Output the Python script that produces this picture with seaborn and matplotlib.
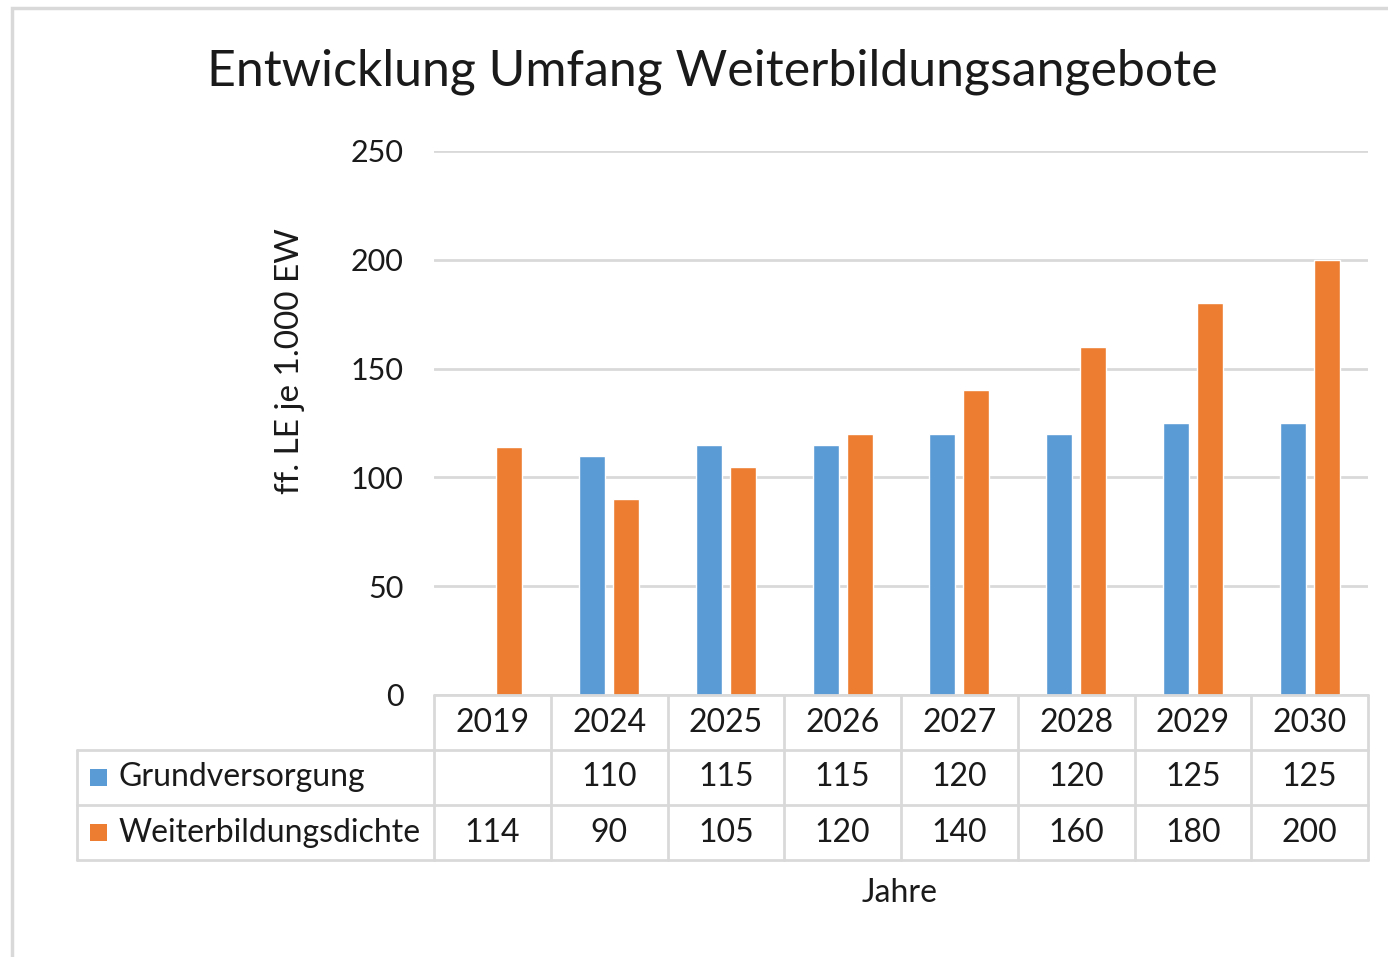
import numpy as np
import pandas as pd
import matplotlib
matplotlib.use("Agg")
import matplotlib.pyplot as plt
from matplotlib.patches import Rectangle
from matplotlib.lines import Line2D
import seaborn as sns

# ---- data ----
years = ["2019", "2024", "2025", "2026", "2027", "2028", "2029", "2030"]
grundversorgung = [np.nan, 110, 115, 115, 120, 120, 125, 125]
weiterbildungsdichte = [114, 90, 105, 120, 140, 160, 180, 200]
series_names = ["Grundversorgung", "Weiterbildungsdichte"]
y_ticks = [0, 50, 100, 150, 200, 250]
title = "Entwicklung Umfang Weiterbildungsangebote"
y_label = "ff. LE je 1.000 EW"
x_label = "Jahre"

colors = ["#5B9BD5", "#ED7D31"]
grid_c = "#D9D9D9"
text_c = "#1a1a1a"

sns.set_theme(style="white")
plt.rcParams["font.family"] = ["Lato", "DejaVu Sans"]

W, H = 1388, 957
fig = plt.figure(figsize=(W / 100, H / 100), dpi=100)

def fx(px):
    return px / W

def fy(py):
    return 1 - py / H

FS = 23

# outer chart border
fig.patches.append(Rectangle((fx(12), fy(1000)), fx(1500), fy(8) - fy(1000),
                             transform=fig.transFigure, fill=False,
                             edgecolor=grid_c, linewidth=2.5))

ax_l, ax_r, ax_t, ax_b = 434, 1368, 151, 695
ax = fig.add_axes([fx(ax_l), fy(ax_b), fx(ax_r) - fx(ax_l), fy(ax_t) - fy(ax_b)])

df = pd.DataFrame({
    "Jahr": years * 2,
    "Serie": [series_names[0]] * len(years) + [series_names[1]] * len(years),
    "Wert": list(grundversorgung) + list(weiterbildungsdichte),
})

sns.barplot(data=df, x="Jahr", y="Wert", hue="Serie", order=years,
            hue_order=series_names, palette=colors, width=0.58, gap=0.23,
            saturation=1, ax=ax, legend=False, errorbar=None)

ax.set_xlim(-0.5, len(years) - 0.5)
ax.set_ylim(0, 250)
ax.set_yticks(y_ticks)
ax.set_yticklabels([str(t) for t in y_ticks], fontsize=22, color=text_c)
ax.tick_params(axis="y", length=0, pad=22)
ax.set_xticks([])
ax.set_xlabel("")
ax.set_ylabel("")
for s in ax.spines.values():
    s.set_visible(False)
ax.yaxis.grid(True, color=grid_c, linewidth=2)
ax.set_axisbelow(True)

# y label and title
fig.text(fx(290), fy(361), y_label, rotation=90, ha="center", va="center",
         fontsize=24, color=text_c)
fig.text(fx(712), fy(72), title, ha="center", va="center", fontsize=36, color=text_c)
fig.text(fx(900), fy(893), x_label, ha="center", va="center", fontsize=FS, color=text_c)

# ---- data table ----
cat_w = (ax_r - ax_l) / len(years)
col_edges = [ax_l + i * cat_w for i in range(len(years) + 1)]
row_edges = [695, 750, 805, 860]
left_tab = 77
lw = 2

def hline(x0, x1, y):
    fig.lines.append(Line2D([fx(x0), fx(x1)], [fy(y), fy(y)], transform=fig.transFigure,
                            color=grid_c, linewidth=lw))

def vline(x, y0, y1):
    fig.lines.append(Line2D([fx(x), fx(x)], [fy(y0), fy(y1)], transform=fig.transFigure,
                            color=grid_c, linewidth=lw))

hline(ax_l, ax_r, row_edges[0])
for y in row_edges[1:]:
    hline(left_tab, ax_r, y)
for x in col_edges:
    vline(x, row_edges[0], row_edges[-1])
vline(left_tab, row_edges[1], row_edges[-1])

row_centers = [(row_edges[i] + row_edges[i + 1]) / 2 for i in range(3)]
for i, yr in enumerate(years):
    cx = (col_edges[i] + col_edges[i + 1]) / 2
    fig.text(fx(cx), fy(row_centers[0]), yr, ha="center", va="center",
             fontsize=FS, color=text_c)
    for r, vals in enumerate([grundversorgung, weiterbildungsdichte]):
        v = vals[i]
        s = "" if (v is None or (isinstance(v, float) and np.isnan(v))) else f"{int(v)}"
        fig.text(fx(cx), fy(row_centers[r + 1]), s, ha="center", va="center",
                 fontsize=FS, color=text_c)

for r, (name, c) in enumerate(zip(series_names, colors)):
    yc = row_centers[r + 1]
    fig.patches.append(Rectangle((fx(90), fy(yc + 8)), fx(17), fy(yc - 9) - fy(yc + 8),
                                 transform=fig.transFigure, facecolor=c, edgecolor="none"))
    fig.text(fx(118), fy(yc), name, ha="left", va="center", fontsize=FS, color=text_c)

fig.savefig("out.png", dpi=100)
